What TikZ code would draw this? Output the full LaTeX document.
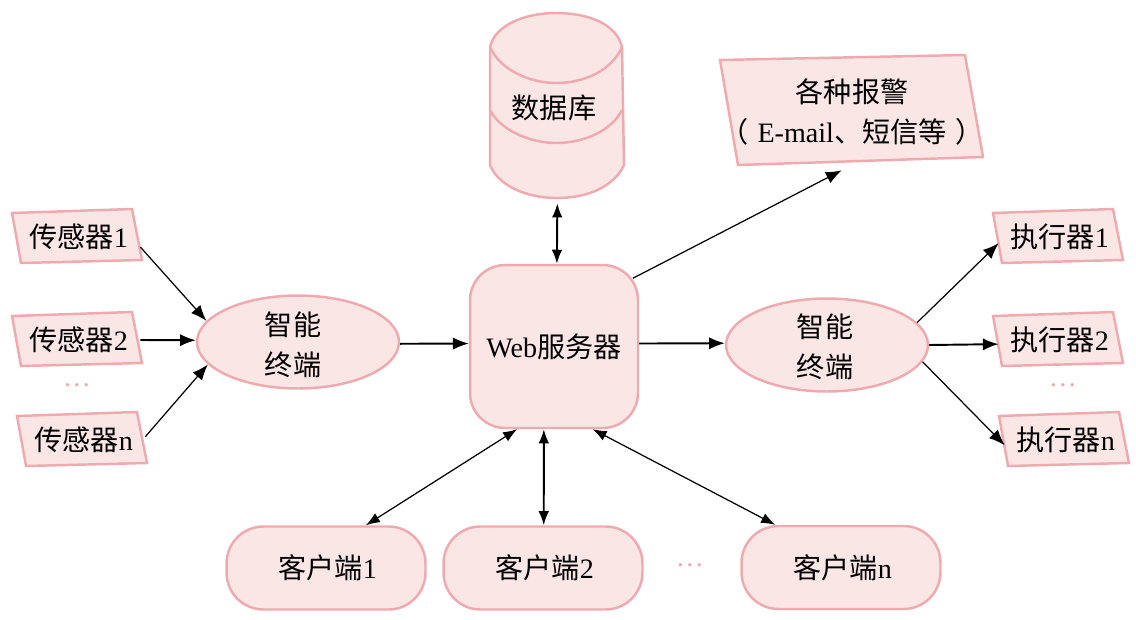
\documentclass[tikz,border=0pt]{standalone}
\usepackage{fontspec}
\setmainfont{Liberation Serif}
\newfontfamily\cjk{Noto Sans CJK SC}
\usetikzlibrary{arrows.meta,shapes.geometric}
\definecolor{shapefill}{HTML}{FBE6E6}
\definecolor{shapeline}{HTML}{EFAAB0}
\tikzset{
  shapeborder/.style={draw=shapeline, fill=shapefill, line width=1.4pt},
  label/.style={inner sep=0pt, align=center, font=\fontsize{16}{22.4}\selectfont},
  terminal/.style={ellipse, shapeborder, label, inner ysep=-2.5pt, minimum width=4.04cm, minimum height=1.86cm},
  client/.style={shapeborder, label, rounded corners=21pt, minimum width=3.98cm, minimum height=1.66cm},
  thinarrow/.style={line width=0.7pt, -{Latex[length=9pt,width=7pt]}},
  thickarrow/.style={line width=1.1pt, -{Latex[length=9pt,width=7pt]}},
  thinboth/.style={line width=0.7pt, {Latex[length=8pt,width=6pt]}-{Latex[length=8pt,width=6pt]}},
  thickboth/.style={line width=1.1pt, {Latex[length=8pt,width=6pt]}-{Latex[length=8pt,width=6pt]}},
  moredots/.style={label, text=shapeline}
}
\begin{document}
\begin{tikzpicture}[x=0.02cm, y=-0.02cm]
      \useasboundingbox (0,0) rectangle (1136,619);
      % database
      \draw[shapeborder] (490,47) .. controls (495,25) and (525,13) .. (556,13) .. controls (590,13) and (617,25) .. (622,47) -- (624,165) .. controls (615,185) and (590,198) .. (557,198) .. controls (525,198) and (498,185) .. (490,165) -- cycle;
      \draw[shapeborder, fill=none] (490,47) .. controls (500,70) and (530,83) .. (556,83) .. controls (585,83) and (612,70) .. (622,47);
      \draw[shapeborder, fill=none] (490,110) .. controls (500,130) and (530,143) .. (556,143) .. controls (585,143) and (612,130) .. (622,110);
      \node[label, minimum width=2.68cm, minimum height=3.8cm] (db) at (554,108) {{\cjk 数据库}};
      % alarm
      \draw[shapeborder] (720,60) -- (965,55) -- (983,157) -- (738,165) -- cycle;
      \node[label, minimum width=4.8cm, minimum height=2.32cm] (alarm) at (852,112) {{\cjk 各种报警}\\{\cjk （}\,\,E-mail{\cjk 、短信等}\,\,{\cjk ）}};
      % sensors and actuators
      \foreach \name/\cx/\cy/\wid/\txt/\tail in {s1/77/237/126/传感器/1, s2/77/340/126/传感器/2, sn/82/440/126/传感器/n, a1/1058/237/118/执行器/1, a2/1058/340/118/执行器/2, an/1064/440/118/执行器/n}
        {
        \draw[shapeborder, shift={(\cx,\cy)}] (-65,-24) -- (55,-28) -- (65,23) -- (-56,26) -- cycle;
        \node[label, minimum width=\wid*0.02cm, minimum height=1.04cm] (\name) at (\cx,\cy) {\hspace*{2pt}{\cjk \txt}\tail};
        }
      \node[moredots] (dots1) at (77,385) {…};
      \node[moredots] (dots2) at (1063,385) {…};
      \node[moredots] (dots3) at (690,565) {…};
      \node[terminal] (t1) at (298,342) {\rule{0pt}{16.5pt}{\cjk 智能}\hspace*{5.6pt}\\{\cjk 终端}\hspace*{5.6pt}};
      \node[terminal] (t2) at (827,345) {\rule{0pt}{15.5pt}{\cjk 智能}\hspace*{2.2pt}\\{\cjk 终端}\hspace*{2.2pt}};
      \node[shapeborder, label, rounded corners=20pt, minimum width=3.36cm, minimum height=3.26cm] (web) at (554,346.5) {Web{\cjk 服务器}};
      \node[client] (c1) at (326,568) {\hspace*{2pt}{\cjk 客户端}1};
      \node[client] (c2) at (543,568) {\hspace*{2pt}{\cjk 客户端}2};
      \node[client] (cn) at (841,567.5) {\hspace*{2pt}{\cjk 客户端}n};
      % connectors
      \foreach \source/\dest/\kind in {s1.-9.9/t1.167.9/thinarrow, s2.east/t1.179/thickarrow, sn.3.6/t1.194.2/thinarrow, t1.-1/web.178/thickarrow, web.2/t2.179/thickarrow, t2.14.2/a1.186.8/thinarrow, t2.east/a2.184.8/thickarrow, t2.-10.4/an.185.8/thinarrow, db.-88/web.88/thickboth, web.-114.4/c1.47.5/thinboth, web.-97/c2.89/thickboth, web.-65.6/cn.147.8/thinboth}
        \draw[\kind] (\source) -- (\dest);
      \draw[thinarrow, shorten <=-4pt] (web.40.4) -- (alarm.-100.4);
    \end{tikzpicture}
\end{document}
